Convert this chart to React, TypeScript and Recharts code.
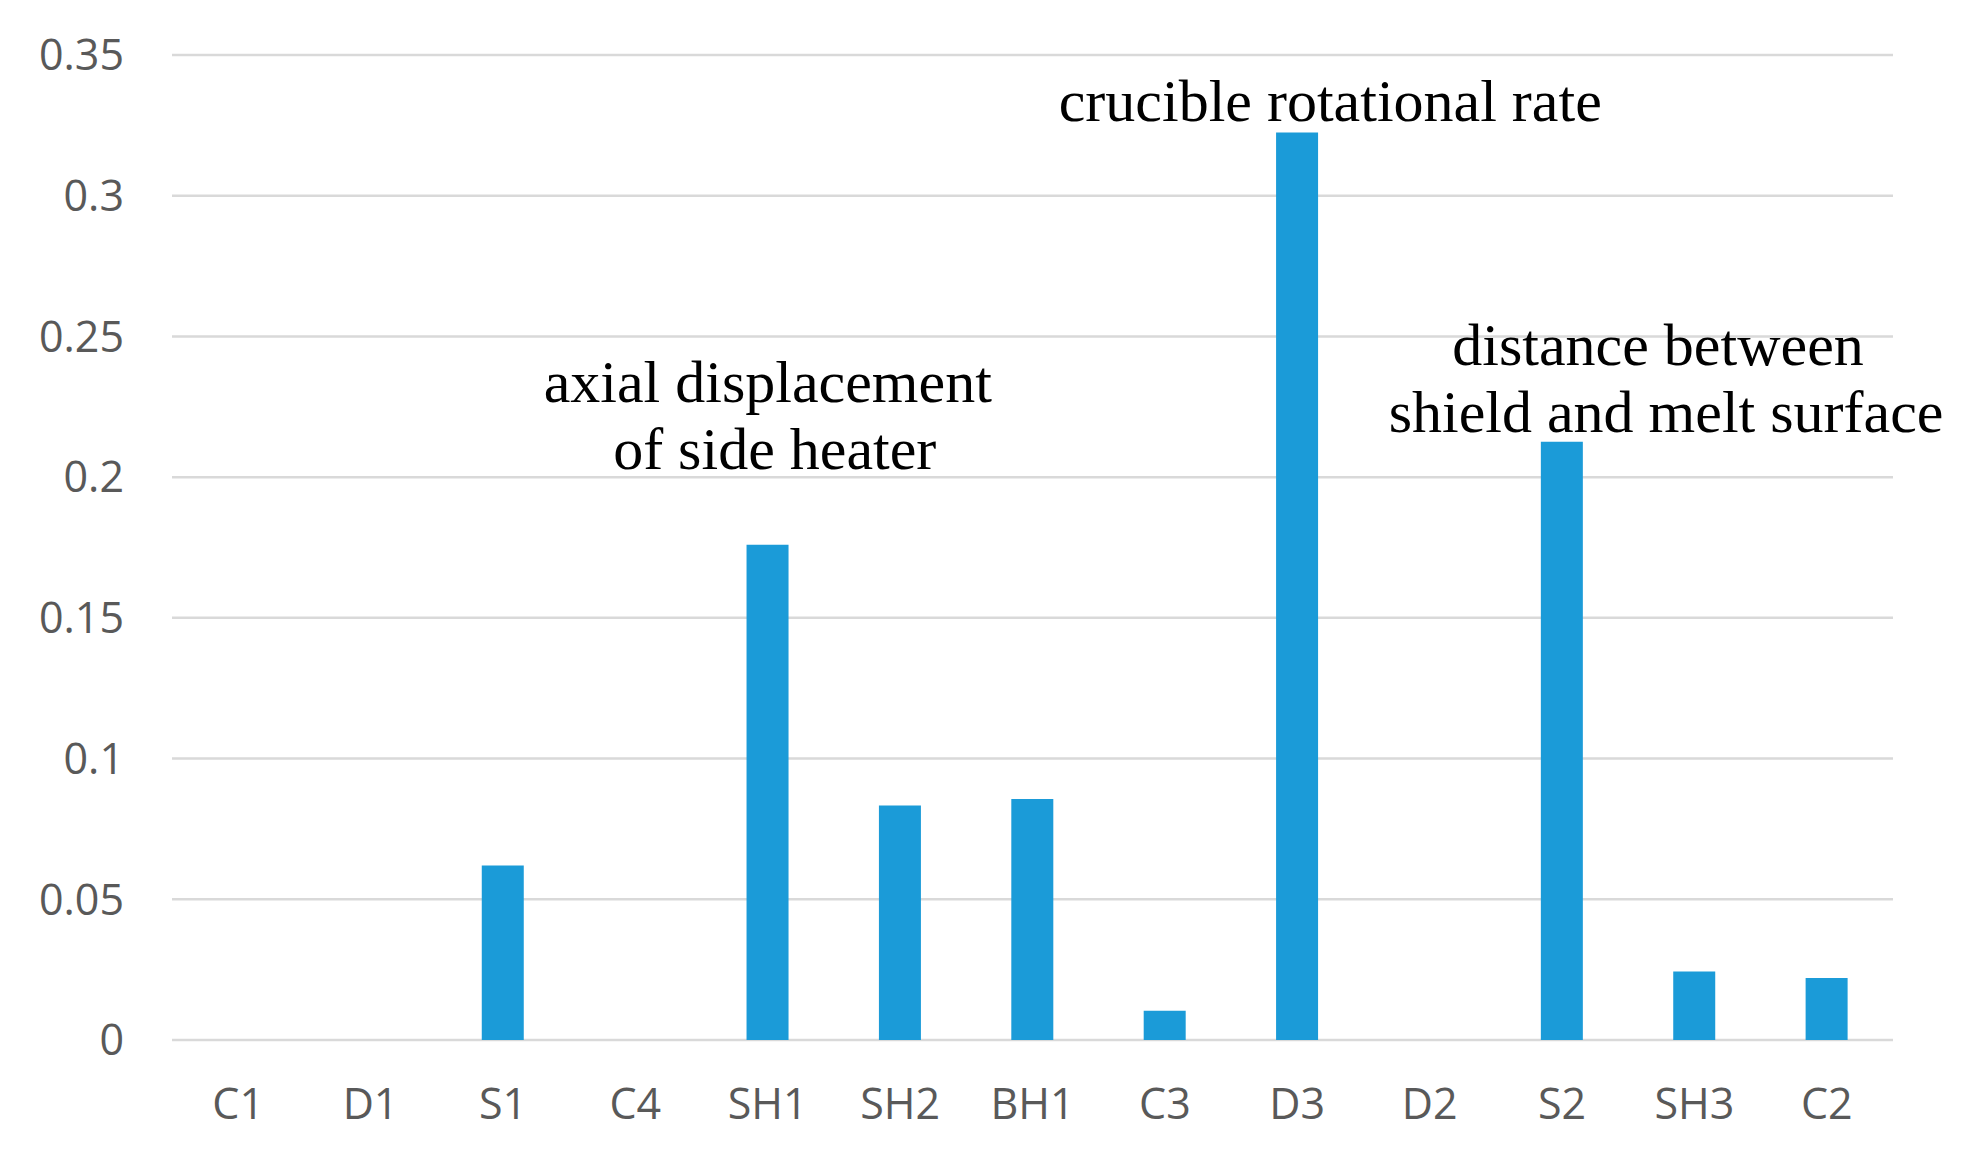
import React from 'react';
import { BarChart, Bar, XAxis, YAxis, CartesianGrid, ReferenceDot } from 'recharts';

const categories = ['C1', 'D1', 'S1', 'C4', 'SH1', 'SH2', 'BH1', 'C3', 'D3', 'D2', 'S2', 'SH3', 'C2'];
const values = [0, 0, 0.062, 0, 0.176, 0.0833, 0.0856, 0.0104, 0.3225, 0, 0.2126, 0.0243, 0.022];
const yTicks = [0, 0.05, 0.1, 0.15, 0.2, 0.25, 0.3, 0.35];

const annotationCategories = ['SH1', 'D3', 'S2'];
const annotationValues = [0.2266, 0.3267, 0.24];
const annotationLines = [
  ['axial displacement', 'of side heater'],
  ['crucible rotational rate'],
  ['distance between', 'shield and melt surface'],
];
const annotationShifts = [
  [0, 7],
  [33],
  [96, 104],
];

const data = categories.map((c, i) => ({ name: c, value: values[i] }));

const makeShape = (idx: number) => (props: any) => {
  const { cx, cy } = props;
  return (
    <g>
      {annotationLines[idx].map((line, i) => (
        <text
          key={i}
          x={cx + annotationShifts[idx][i]}
          y={cy + i * 67}
          textAnchor="middle"
          fontFamily="'Liberation Serif', 'Times New Roman', serif"
          fontSize={60}
          fill="#000"
        >
          {line}
        </text>
      ))}
    </g>
  );
};

export default function App() {
  return (
    <div style={{ width: 1979, height: 1142, background: '#fff' }}>
      <BarChart
        width={1979}
        height={1142}
        data={data}
        margin={{ top: 47, right: 94, bottom: 20, left: 0 }}
        barSize={42}
      >
        <CartesianGrid horizontal vertical={false} stroke="#d9d9d9" strokeWidth={2.5} />
        <XAxis
          dataKey="name"
          axisLine={false}
          tickLine={false}
          height={90}
          tickMargin={42}
          interval={0}
          tick={{ fill: '#595959', fontSize: 43, fontFamily: "'Open Sans', sans-serif" }}
        />
        <YAxis
          width={164}
          domain={[0, 0.35]}
          ticks={yTicks}
          axisLine={false}
          tickLine={false}
          tickMargin={42}
          interval={0}
          tick={{ fill: '#595959', fontSize: 43, fontFamily: "'Open Sans', sans-serif" }}
        />
        <Bar dataKey="value" fill="#1b9bd8" isAnimationActive={false} />
        {annotationCategories.map((c, i) => (
          <ReferenceDot
            key={c}
            x={c}
            y={annotationValues[i]}
            r={0}
            ifOverflow="visible"
            shape={makeShape(i)}
          />
        ))}
      </BarChart>
    </div>
  );
}
